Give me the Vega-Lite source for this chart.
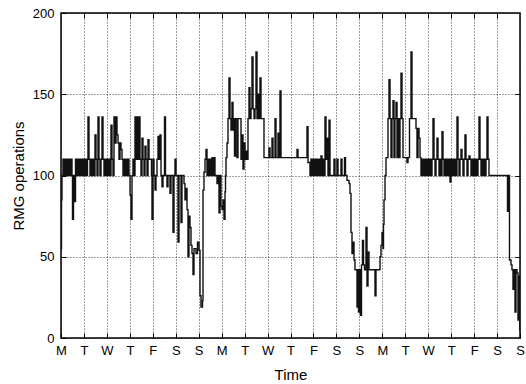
{
 "$schema": "https://vega.github.io/schema/vega-lite/v6.json",
 "width": 459, "height": 325,
 "autosize": {"type": "none"},
 "padding": {"left": 61, "top": 13, "right": 6, "bottom": 46},
 "config": {
  "view": {"stroke": "#000", "strokeWidth": 1.5},
  "font": "Liberation Sans",
  "axis": {"labelFont": "Liberation Sans", "labelFontSize": 13, "labelColor": "#000", "titleFont": "Liberation Sans", "titleFontSize": 15, "titleFontWeight": "normal", "titleColor": "#000", "tickColor": "#000", "tickSize": -5, "tickWidth": 1, "domain": false, "gridColor": "#000", "gridDash": [1, 2], "gridOpacity": 0.75, "gridWidth": 1, "labelFlush": false, "labelOverlap": false}
 },
 "resolve": {"axis": {"x": "independent", "y": "independent"}},
 "layer": [
  {
   "data": {"values": [
{"t":0,"v":55},{"t":0.022,"v":85},{"t":0.044,"v":100},{"t":0.087,"v":110},{"t":0.131,"v":100},{"t":0.174,"v":110},{"t":0.218,"v":100},{"t":0.261,"v":110},{"t":0.305,"v":100},{"t":0.349,"v":110},{"t":0.392,"v":100},{"t":0.436,"v":110},{"t":0.479,"v":100},{"t":0.501,"v":73},{"t":0.545,"v":100},{"t":0.588,"v":84},{"t":0.632,"v":110},{"t":0.675,"v":100},{"t":0.719,"v":110},{"t":0.763,"v":100},{"t":0.806,"v":110},{"t":0.850,"v":100},{"t":0.893,"v":110},{"t":0.937,"v":100},{"t":0.980,"v":110},
{"t":1.024,"v":100},{"t":1.068,"v":110},{"t":1.111,"v":100},{"t":1.155,"v":110},{"t":1.176,"v":136},{"t":1.220,"v":110},{"t":1.264,"v":100},{"t":1.307,"v":110},{"t":1.351,"v":100},{"t":1.394,"v":110},{"t":1.438,"v":100},{"t":1.481,"v":125},{"t":1.525,"v":110},{"t":1.569,"v":100},{"t":1.612,"v":136},{"t":1.656,"v":110},{"t":1.699,"v":100},{"t":1.743,"v":110},{"t":1.786,"v":136},{"t":1.830,"v":110},{"t":1.874,"v":100},{"t":1.917,"v":110},{"t":1.961,"v":100},
{"t":2.004,"v":110},{"t":2.048,"v":100},{"t":2.092,"v":110},{"t":2.135,"v":100},{"t":2.179,"v":131},{"t":2.222,"v":110},{"t":2.266,"v":100},{"t":2.309,"v":136},{"t":2.353,"v":120},{"t":2.397,"v":136},{"t":2.440,"v":125},{"t":2.484,"v":120},{"t":2.527,"v":110},{"t":2.571,"v":120},{"t":2.614,"v":116},{"t":2.658,"v":110},{"t":2.702,"v":100},{"t":2.745,"v":110},{"t":2.789,"v":100},{"t":2.832,"v":110},{"t":2.876,"v":100},{"t":2.919,"v":110},{"t":2.963,"v":100},
{"t":3.007,"v":88},{"t":3.050,"v":73},{"t":3.094,"v":100},{"t":3.137,"v":110},{"t":3.181,"v":100},{"t":3.224,"v":136},{"t":3.268,"v":110},{"t":3.312,"v":136},{"t":3.355,"v":110},{"t":3.399,"v":136},{"t":3.442,"v":110},{"t":3.486,"v":100},{"t":3.529,"v":123},{"t":3.573,"v":110},{"t":3.617,"v":100},{"t":3.660,"v":118},{"t":3.704,"v":110},{"t":3.747,"v":100},{"t":3.791,"v":122},{"t":3.834,"v":110},{"t":3.943,"v":100},{"t":3.965,"v":73},
{"t":4.009,"v":110},{"t":4.052,"v":100},{"t":4.096,"v":91},{"t":4.139,"v":100},{"t":4.183,"v":110},{"t":4.227,"v":124},{"t":4.270,"v":110},{"t":4.314,"v":125},{"t":4.357,"v":100},{"t":4.401,"v":93},{"t":4.444,"v":100},{"t":4.510,"v":136},{"t":4.553,"v":100},{"t":4.619,"v":93},{"t":4.662,"v":100},{"t":4.749,"v":89},{"t":4.793,"v":100},{"t":4.880,"v":65},{"t":4.924,"v":100},{"t":4.967,"v":110},
{"t":5.011,"v":100},{"t":5.098,"v":59},{"t":5.142,"v":100},{"t":5.229,"v":71},{"t":5.272,"v":100},{"t":5.359,"v":95},{"t":5.403,"v":85},{"t":5.447,"v":92},{"t":5.490,"v":79},{"t":5.534,"v":50},{"t":5.577,"v":75},{"t":5.621,"v":68},{"t":5.664,"v":57},{"t":5.708,"v":52},{"t":5.752,"v":39},{"t":5.795,"v":55},{"t":5.882,"v":52},{"t":5.948,"v":59},
{"t":6.013,"v":54},{"t":6.057,"v":26},{"t":6.100,"v":19},{"t":6.166,"v":23},{"t":6.187,"v":91},{"t":6.231,"v":102},{"t":6.275,"v":110},{"t":6.318,"v":116},{"t":6.362,"v":100},{"t":6.405,"v":110},{"t":6.449,"v":100},{"t":6.492,"v":110},{"t":6.536,"v":100},{"t":6.580,"v":111},{"t":6.623,"v":100},{"t":6.667,"v":111},{"t":6.710,"v":100},{"t":6.797,"v":95},{"t":6.841,"v":100},{"t":6.885,"v":77},{"t":6.928,"v":100},{"t":6.972,"v":81},
{"t":7.015,"v":79},{"t":7.059,"v":85},{"t":7.102,"v":73},{"t":7.146,"v":90},{"t":7.168,"v":100},{"t":7.190,"v":111},{"t":7.233,"v":120},{"t":7.277,"v":135},{"t":7.320,"v":160},{"t":7.364,"v":135},{"t":7.407,"v":128},{"t":7.451,"v":145},{"t":7.495,"v":128},{"t":7.538,"v":135},{"t":7.560,"v":112},{"t":7.604,"v":135},{"t":7.669,"v":111},{"t":7.712,"v":135},{"t":7.843,"v":110},{"t":7.887,"v":125},{"t":7.930,"v":104},{"t":7.974,"v":120},
{"t":8.017,"v":110},{"t":8.061,"v":115},{"t":8.105,"v":110},{"t":8.148,"v":135},{"t":8.192,"v":154},{"t":8.235,"v":135},{"t":8.279,"v":141},{"t":8.322,"v":173},{"t":8.366,"v":141},{"t":8.410,"v":135},{"t":8.453,"v":141},{"t":8.497,"v":176},{"t":8.540,"v":135},{"t":8.584,"v":150},{"t":8.627,"v":135},{"t":8.671,"v":160},{"t":8.715,"v":135},{"t":8.845,"v":111},
{"t":9.063,"v":117},{"t":9.107,"v":111},{"t":9.194,"v":123},{"t":9.237,"v":111},{"t":9.325,"v":135},{"t":9.368,"v":111},{"t":9.455,"v":126},{"t":9.499,"v":111},{"t":9.542,"v":152},{"t":9.586,"v":111},
{"t":10.283,"v":116},{"t":10.327,"v":111},{"t":10.719,"v":130},{"t":10.763,"v":108},{"t":10.850,"v":100},{"t":10.893,"v":110},{"t":10.937,"v":100},{"t":10.980,"v":110},
{"t":11.024,"v":100},{"t":11.068,"v":110},{"t":11.111,"v":100},{"t":11.155,"v":110},{"t":11.198,"v":100},{"t":11.242,"v":110},{"t":11.285,"v":100},{"t":11.329,"v":112},{"t":11.373,"v":100},{"t":11.416,"v":110},{"t":11.460,"v":100},{"t":11.503,"v":136},{"t":11.547,"v":110},{"t":11.590,"v":123},{"t":11.634,"v":100},{"t":11.678,"v":134},{"t":11.721,"v":100},{"t":11.895,"v":110},{"t":11.939,"v":100},
{"t":12.026,"v":110},{"t":12.070,"v":100},{"t":12.200,"v":110},{"t":12.244,"v":100},{"t":12.353,"v":111},{"t":12.396,"v":100},{"t":12.462,"v":97},{"t":12.549,"v":95},{"t":12.593,"v":89},{"t":12.636,"v":65},{"t":12.680,"v":52},{"t":12.723,"v":59},{"t":12.767,"v":48},{"t":12.810,"v":42},{"t":12.898,"v":19},{"t":12.941,"v":42},{"t":12.963,"v":16},
{"t":13.007,"v":42},{"t":13.050,"v":14},{"t":13.094,"v":45},{"t":13.137,"v":60},{"t":13.181,"v":45},{"t":13.224,"v":42},{"t":13.290,"v":68},{"t":13.333,"v":32},{"t":13.377,"v":53},{"t":13.420,"v":42},{"t":13.682,"v":26},{"t":13.725,"v":42},{"t":13.900,"v":50},{"t":13.943,"v":57},{"t":13.987,"v":65},
{"t":14.031,"v":55},{"t":14.052,"v":70},{"t":14.074,"v":85},{"t":14.118,"v":100},{"t":14.161,"v":111},{"t":14.248,"v":135},{"t":14.292,"v":159},{"t":14.336,"v":135},{"t":14.379,"v":111},{"t":14.423,"v":135},{"t":14.466,"v":146},{"t":14.510,"v":111},{"t":14.553,"v":135},{"t":14.597,"v":145},{"t":14.641,"v":111},{"t":14.684,"v":135},{"t":14.728,"v":111},{"t":14.771,"v":135},{"t":14.815,"v":163},{"t":14.858,"v":135},{"t":14.902,"v":111},
{"t":15.076,"v":108},{"t":15.120,"v":111},{"t":15.185,"v":135},{"t":15.251,"v":176},{"t":15.294,"v":135},{"t":15.468,"v":129},{"t":15.512,"v":111},{"t":15.556,"v":129},{"t":15.599,"v":123},{"t":15.643,"v":111},{"t":15.686,"v":100},{"t":15.730,"v":110},{"t":15.773,"v":100},{"t":15.817,"v":110},{"t":15.861,"v":100},{"t":15.904,"v":110},{"t":15.948,"v":100},{"t":15.991,"v":110},
{"t":16.035,"v":100},{"t":16.078,"v":110},{"t":16.122,"v":100},{"t":16.166,"v":110},{"t":16.209,"v":135},{"t":16.253,"v":110},{"t":16.296,"v":100},{"t":16.340,"v":110},{"t":16.383,"v":123},{"t":16.427,"v":110},{"t":16.471,"v":100},{"t":16.514,"v":110},{"t":16.558,"v":100},{"t":16.601,"v":127},{"t":16.645,"v":110},{"t":16.688,"v":100},{"t":16.732,"v":110},{"t":16.776,"v":100},{"t":16.819,"v":110},{"t":16.863,"v":100},{"t":16.906,"v":110},{"t":16.950,"v":96},{"t":16.993,"v":110},
{"t":17.037,"v":100},{"t":17.081,"v":110},{"t":17.124,"v":100},{"t":17.168,"v":110},{"t":17.211,"v":100},{"t":17.255,"v":136},{"t":17.298,"v":110},{"t":17.342,"v":100},{"t":17.386,"v":110},{"t":17.429,"v":116},{"t":17.473,"v":110},{"t":17.516,"v":100},{"t":17.560,"v":110},{"t":17.603,"v":125},{"t":17.647,"v":110},{"t":17.691,"v":100},{"t":17.734,"v":110},{"t":17.778,"v":112},{"t":17.821,"v":110},{"t":17.865,"v":100},{"t":17.908,"v":110},{"t":17.952,"v":100},{"t":17.996,"v":110},
{"t":18.039,"v":100},{"t":18.083,"v":110},{"t":18.126,"v":100},{"t":18.170,"v":110},{"t":18.214,"v":136},{"t":18.257,"v":110},{"t":18.301,"v":100},{"t":18.344,"v":110},{"t":18.388,"v":100},{"t":18.431,"v":110},{"t":18.475,"v":100},{"t":18.519,"v":110},{"t":18.562,"v":136},{"t":18.606,"v":110},{"t":18.649,"v":100},
{"t":19.455,"v":78},{"t":19.499,"v":100},{"t":19.542,"v":48},{"t":19.608,"v":45},{"t":19.651,"v":42},{"t":19.695,"v":30},{"t":19.739,"v":42},{"t":19.782,"v":16},{"t":19.826,"v":42},{"t":19.869,"v":40},{"t":19.913,"v":11},{"t":19.956,"v":38},{"t":19.987,"v":5},{"t":20,"v":5}
   ]},
   "mark": {"type": "line", "interpolate": "step-after", "color": "#111", "strokeWidth": 1.4, "clip": true},
   "encoding": {
    "x": {"field": "t", "type": "quantitative", "scale": {"domain": [0, 20], "nice": false, "zero": false},
     "axis": {"orient": "bottom", "values": [0,1,2,3,4,5,6,7,8,9,10,11,12,13,14,15,16,17,18,19,20], "labelExpr": "['M','T','W','T','F','S','S'][datum.value % 7]", "title": "Time", "grid": true, "labelPadding": 11, "titleBaseline": "alphabetic", "titleX": 229.5, "titleY": 41}},
    "y": {"field": "v", "type": "quantitative", "scale": {"domain": [0, 200], "nice": false},
     "axis": {"orient": "left", "values": [0, 50, 100, 150, 200], "title": "RMG operations", "grid": true, "labelPadding": 12, "titleBaseline": "alphabetic", "titleX": -38, "titleY": 162.5}}
   }
  },
  {
   "data": {"values": [{"t": 0, "v": 0}]},
   "mark": {"type": "point", "opacity": 0},
   "encoding": {
    "x": {"field": "t", "type": "quantitative", "scale": {"domain": [0, 20], "nice": false, "zero": false},
     "axis": {"orient": "top", "values": [1,2,3,4,5,6,7,8,9,10,11,12,13,14,15,16,17,18,19], "labels": false, "title": null, "grid": false}},
    "y": {"field": "v", "type": "quantitative", "scale": {"domain": [0, 200], "nice": false},
     "axis": {"orient": "right", "values": [50, 100, 150], "labels": false, "title": null, "grid": false}}
   }
  }
 ]
}
